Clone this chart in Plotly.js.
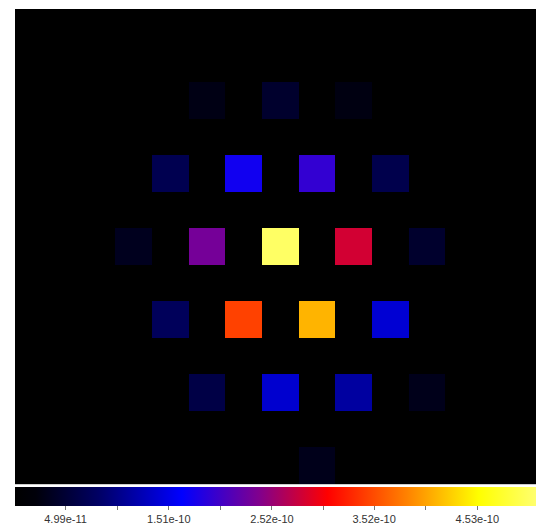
<!DOCTYPE html>
<html>
<head>
<meta charset="utf-8">
<script src="https://cdn.plot.ly/plotly-3.0.1.min.js"></script>
<style>html,body{margin:0;padding:0;background:#fff;}#chart{width:537px;height:527px;}</style>
</head>
<body>
<div id="chart"></div>
<script>
// Grid size (13 x 13 pixels image)
const nRows = 13;
const nCols = 13;
// Non-zero pixels: row index (0 = top), column index, value
const cellRow   = [2, 2, 2, 4, 4, 4, 4, 6, 6, 6, 6, 6, 8, 8, 8, 8, 10, 10, 10, 10, 12];
const cellCol   = [4, 6, 8, 3, 5, 7, 9, 2, 4, 6, 8, 10, 3, 5, 7, 9, 4, 6, 8, 10, 7];
const cellValue = [0.27e-10, 0.44e-10, 0.25e-10,
                   0.68e-10, 1.73e-10, 1.93e-10, 0.65e-10,
                   0.34e-10, 2.32e-10, 5.05e-10, 2.82e-10, 0.44e-10,
                   0.75e-10, 3.45e-10, 4.12e-10, 1.40e-10,
                   0.61e-10, 1.38e-10, 1.13e-10, 0.31e-10,
                   0.31e-10];
// Colorbar ticks
const tickVals  = [4.99e-11, 1.005e-10, 1.51e-10, 2.015e-10, 2.52e-10, 3.02e-10, 3.52e-10, 4.025e-10, 4.53e-10];
const tickTexts = ['4.99e-11', '', '1.51e-10', '', '2.52e-10', '', '3.52e-10', '', '4.53e-10'];
const zMin = 0;
const zMax = 5.1e-10;

const z = [];
for (let r = 0; r < nRows; r++) { z.push(new Array(nCols).fill(0)); }
for (let i = 0; i < cellValue.length; i++) { z[cellRow[i]][cellCol[i]] = cellValue[i]; }
const xs = [...Array(nCols).keys()];
const ys = [...Array(nRows).keys()];

const colorscale = [
  [0.00, 'rgb(0,0,0)'],
  [0.04, 'rgb(0,0,10)'],
  [0.16, 'rgb(0,0,100)'],
  [0.32, 'rgb(0,0,255)'],
  [0.47, 'rgb(130,0,140)'],
  [0.60, 'rgb(255,0,0)'],
  [0.75, 'rgb(255,128,0)'],
  [0.89, 'rgb(255,255,0)'],
  [1.00, 'rgb(255,255,110)']
];

const trace = {
  type: 'heatmap', x: xs, y: ys, z: z,
  zmin: zMin, zmax: zMax, zsmooth: false,
  colorscale: colorscale,
  hoverinfo: 'none',
  colorbar: {
    orientation: 'h',
    xref: 'container', yref: 'container',
    x: 15/537, xanchor: 'left',
    y: (527-487)/527, yanchor: 'top',
    len: 521, lenmode: 'pixels',
    thickness: 19, thicknessmode: 'pixels',
    xpad: 0, ypad: 0,
    outlinewidth: 0,
    ticks: 'outside', ticklen: 4, tickwidth: 1, tickcolor: '#777',
    tickvals: tickVals, ticktext: tickTexts,
    tickfont: {family: 'Liberation Sans, Arial, sans-serif', size: 11, color: '#333'}
  }
};

const layout = {
  width: 537, height: 527,
  margin: {l: 15, r: 1, t: 9, b: 43},
  paper_bgcolor: '#fff', plot_bgcolor: '#000',
  xaxis: {range: [-1.23, 12.98], showgrid: false, zeroline: false, showticklabels: false, ticks: '',
          showline: true, linecolor: '#ccc', linewidth: 1, mirror: false},
  yaxis: {range: [12.5, -0.5], showgrid: false, zeroline: false, showticklabels: false, ticks: ''},
  showlegend: false
};

Plotly.newPlot('chart', [trace], layout, {displayModeBar: false, staticPlot: true});
</script>
</body>
</html>
